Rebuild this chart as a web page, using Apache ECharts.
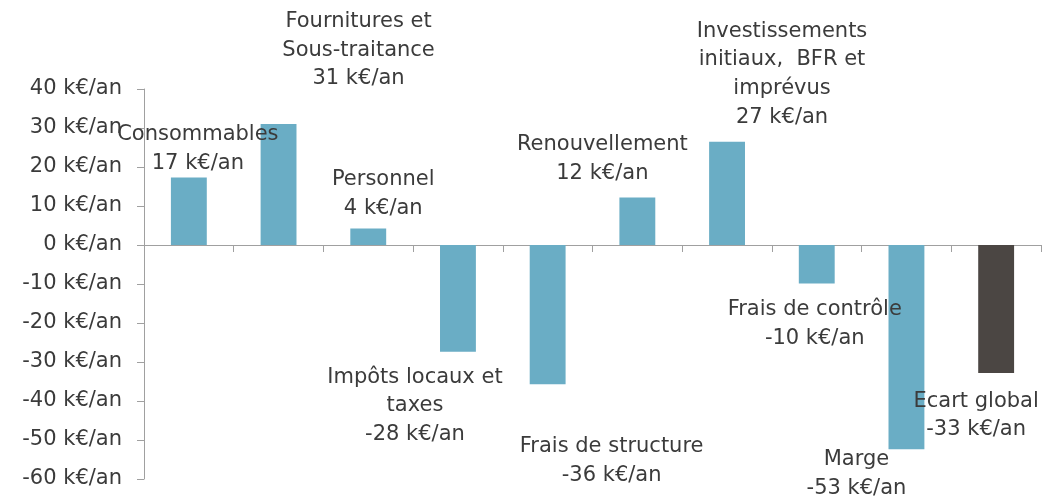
<!DOCTYPE html>
<html>
<head>
<meta charset="utf-8">
<script src="https://cdn.jsdelivr.net/npm/echarts@6/dist/echarts.min.js"></script>
<style>
  html, body { margin: 0; padding: 0; background: #fff; }
  #chart { width: 1047px; height: 498px; }
</style>
</head>
<body>
<div id="chart"></div>
<script>
const categories = [
  'Consommables',
  'Fournitures et\nSous-traitance',
  'Personnel',
  'Impôts locaux et\ntaxes',
  'Frais de structure',
  'Renouvellement',
  'Investissements\ninitiaux,  BFR et\nimprévus',
  'Frais de contrôle',
  'Marge',
  'Ecart global',
]
// bar heights
const values = [17.3, 31, 4.2, -27.4, -35.7, 12.2, 26.5, -9.9, -52.4, -32.8]
// rounded figures printed in the labels
const labelValues = [17, 31, 4, -28, -36, 12, 27, -10, -53, -33]
const yTicks = { min: -60, max: 40, interval: 10 }

// label nudges [dx, dy] in px, relative to the bar end
const labelOffsets = [
  [9, 0], [80, -31], [15, -6], [-43, 11], [64, 48],
  [-35, -10], [55, -10], [-2, 12], [-50, -4], [-20, 14],
]

const textColor = '#3b3b3b'
const axisColor = '#a0a0a0'
const font = 'DejaVu Sans'

const chart = echarts.init(document.getElementById('chart'), null, { renderer: 'canvas' })

const option = {
  animation: false,
  grid: { left: 144, right: 6, top: 89, bottom: 19 },
  xAxis: {
    type: 'category',
    data: categories,
    axisLine: { onZero: true, lineStyle: { color: axisColor, width: 1 } },
    axisTick: { show: true, interval: 0, length: 7, lineStyle: { color: axisColor } },
    axisLabel: { show: false, interval: 0 },
    splitLine: { show: false },
  },
  yAxis: {
    type: 'value',
    min: yTicks.min,
    max: yTicks.max,
    interval: yTicks.interval,
    axisLine: { show: true, lineStyle: { color: axisColor, width: 1 } },
    axisTick: { show: true, length: 7, lineStyle: { color: axisColor } },
    splitLine: { show: false },
    axisLabel: {
      margin: 22,
      color: textColor,
      fontFamily: font,
      fontSize: 21,
      formatter: (v) => v + ' k€/an',
    },
  },
  series: [
    {
      type: 'bar',
      barWidth: '40%',
      data: values.map((v, i) => ({
        value: v,
        itemStyle: { color: i === values.length - 1 ? '#4b4643' : '#6aadc5' },
        label: {
          show: true,
          position: 'outside',
          distance: 0,
          offset: labelOffsets[i],
          formatter: () => categories[i] + '\n' + labelValues[i] + ' k€/an',
        },
      })),
      label: {
        color: textColor,
        fontFamily: font,
        fontSize: 21,
        lineHeight: 28.7,
      },
    },
  ],
}

chart.setOption(option)
</script>
</body>
</html>
